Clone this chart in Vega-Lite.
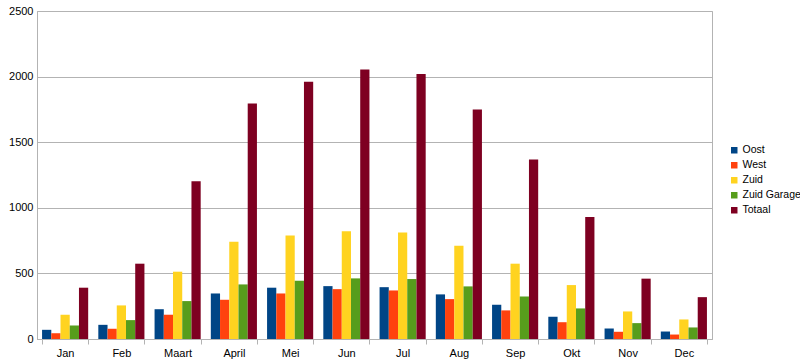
{
  "$schema": "https://vega.github.io/schema/vega-lite/v6.json",
  "autosize": {"type": "none"},
  "padding": {"left": 37, "top": 11, "right": 88, "bottom": 23},
  "width": 675,
  "height": 328,
  "background": "white",
  "config": {
    "font": "Liberation Sans",
    "view": {"stroke": "#b3b3b3", "strokeWidth": 1},
    "axis": {"labelFont": "Liberation Sans", "labelFontSize": 11, "labelColor": "#000000", "domainColor": "#b3b3b3", "tickColor": "#b3b3b3", "gridColor": "#b3b3b3", "title": null}
  },
  "data": {
    "values": [
      {"maand": "Jan", "serie": "Oost", "kWh": 70}, {"maand": "Jan", "serie": "West", "kWh": 44}, {"maand": "Jan", "serie": "Zuid", "kWh": 185}, {"maand": "Jan", "serie": "Zuid Garage", "kWh": 103}, {"maand": "Jan", "serie": "Totaal", "kWh": 391},
      {"maand": "Feb", "serie": "Oost", "kWh": 108}, {"maand": "Feb", "serie": "West", "kWh": 78}, {"maand": "Feb", "serie": "Zuid", "kWh": 256}, {"maand": "Feb", "serie": "Zuid Garage", "kWh": 144}, {"maand": "Feb", "serie": "Totaal", "kWh": 574},
      {"maand": "Maart", "serie": "Oost", "kWh": 227}, {"maand": "Maart", "serie": "West", "kWh": 185}, {"maand": "Maart", "serie": "Zuid", "kWh": 513}, {"maand": "Maart", "serie": "Zuid Garage", "kWh": 289}, {"maand": "Maart", "serie": "Totaal", "kWh": 1202},
      {"maand": "April", "serie": "Oost", "kWh": 347}, {"maand": "April", "serie": "West", "kWh": 299}, {"maand": "April", "serie": "Zuid", "kWh": 742}, {"maand": "April", "serie": "Zuid Garage", "kWh": 416}, {"maand": "April", "serie": "Totaal", "kWh": 1795},
      {"maand": "Mei", "serie": "Oost", "kWh": 391}, {"maand": "Mei", "serie": "West", "kWh": 347}, {"maand": "Mei", "serie": "Zuid", "kWh": 788}, {"maand": "Mei", "serie": "Zuid Garage", "kWh": 444}, {"maand": "Mei", "serie": "Totaal", "kWh": 1960},
      {"maand": "Jun", "serie": "Oost", "kWh": 403}, {"maand": "Jun", "serie": "West", "kWh": 380}, {"maand": "Jun", "serie": "Zuid", "kWh": 821}, {"maand": "Jun", "serie": "Zuid Garage", "kWh": 462}, {"maand": "Jun", "serie": "Totaal", "kWh": 2055},
      {"maand": "Jul", "serie": "Oost", "kWh": 395}, {"maand": "Jul", "serie": "West", "kWh": 370}, {"maand": "Jul", "serie": "Zuid", "kWh": 811}, {"maand": "Jul", "serie": "Zuid Garage", "kWh": 457}, {"maand": "Jul", "serie": "Totaal", "kWh": 2019},
      {"maand": "Aug", "serie": "Oost", "kWh": 340}, {"maand": "Aug", "serie": "West", "kWh": 304}, {"maand": "Aug", "serie": "Zuid", "kWh": 711}, {"maand": "Aug", "serie": "Zuid Garage", "kWh": 401}, {"maand": "Aug", "serie": "Totaal", "kWh": 1750},
      {"maand": "Sep", "serie": "Oost", "kWh": 261}, {"maand": "Sep", "serie": "West", "kWh": 218}, {"maand": "Sep", "serie": "Zuid", "kWh": 574}, {"maand": "Sep", "serie": "Zuid Garage", "kWh": 324}, {"maand": "Sep", "serie": "Totaal", "kWh": 1368},
      {"maand": "Okt", "serie": "Oost", "kWh": 169}, {"maand": "Okt", "serie": "West", "kWh": 128}, {"maand": "Okt", "serie": "Zuid", "kWh": 411}, {"maand": "Okt", "serie": "Zuid Garage", "kWh": 233}, {"maand": "Okt", "serie": "Totaal", "kWh": 930},
      {"maand": "Nov", "serie": "Oost", "kWh": 80}, {"maand": "Nov", "serie": "West", "kWh": 55}, {"maand": "Nov", "serie": "Zuid", "kWh": 210}, {"maand": "Nov", "serie": "Zuid Garage", "kWh": 121}, {"maand": "Nov", "serie": "Totaal", "kWh": 460},
      {"maand": "Dec", "serie": "Oost", "kWh": 57}, {"maand": "Dec", "serie": "West", "kWh": 34}, {"maand": "Dec", "serie": "Zuid", "kWh": 149}, {"maand": "Dec", "serie": "Zuid Garage", "kWh": 88}, {"maand": "Dec", "serie": "Totaal", "kWh": 319}
    ]
  },
  "mark": {"type": "bar", "stroke": null},
  "encoding": {
    "x": {
      "field": "maand", "type": "nominal",
      "sort": ["Jan", "Feb", "Maart", "April", "Mei", "Jun", "Jul", "Aug", "Sep", "Okt", "Nov", "Dec"],
      "scale": {"paddingInner": 0.18, "paddingOuter": 0.09},
      "axis": {"labelAngle": 0, "tickBand": "extent", "tickSize": 5, "labelPadding": 3, "domainColor": "#b3b3b3"}
    },
    "xOffset": {
      "field": "serie", "type": "nominal",
      "sort": ["Oost", "West", "Zuid", "Zuid Garage", "Totaal"],
      "scale": {"paddingInner": 0, "paddingOuter": 0}
    },
    "y": {
      "field": "kWh", "type": "quantitative",
      "scale": {"domain": [0, 2500], "nice": false},
      "axis": {"values": [0, 500, 1000, 1500, 2000, 2500], "format": "d", "ticks": false, "labelPadding": 4, "domain": true}
    },
    "color": {
      "field": "serie", "type": "nominal",
      "sort": ["Oost", "West", "Zuid", "Zuid Garage", "Totaal"],
      "scale": {"domain": ["Oost", "West", "Zuid", "Zuid Garage", "Totaal"], "range": ["#004586", "#ff420e", "#ffd320", "#579d1c", "#7e0021"]},
      "legend": {
        "title": null, "orient": "none", "legendX": 692, "legendY": 134,
        "symbolType": "square", "symbolSize": 42, "symbolStrokeWidth": 0,
        "labelFontSize": 10.5, "labelColor": "#000000", "labelFont": "Liberation Sans",
        "rowPadding": 4, "labelOffset": 3, "labelLimit": 200
      }
    }
  }
}
